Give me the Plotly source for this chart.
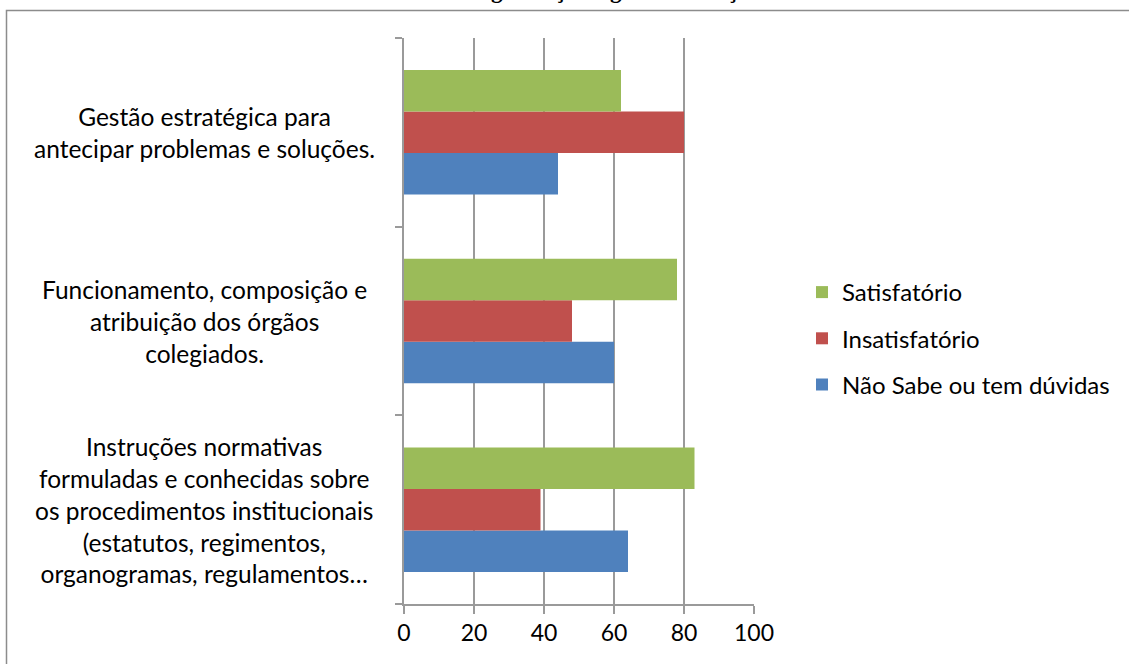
import plotly.graph_objects as go


# ==========================================
# DATA
# ==========================================

categories = [
    "Instruções normativas<br>formuladas e conhecidas sobre<br>os procedimentos institucionais<br>(estatutos, regimentos,<br>organogramas, regulamentos…",
    "Funcionamento, composição e<br>atribuição dos órgãos<br>colegiados.",
    "Gestão estratégica para<br>antecipar problemas e soluções.",
]

nao_sabe = [64, 60, 44]
insatisfatorio = [39, 48, 80]
satisfatorio = [83, 78, 62]

series_names = ["Não Sabe ou tem dúvidas", "Insatisfatório", "Satisfatório"]
series_values = [nao_sabe, insatisfatorio, satisfatorio]
series_colors = ["#4F81BD", "#C0504D", "#9BBB59"]
legend_ranks = [3, 2, 1]

x_ticks = [0, 20, 40, 60, 80, 100]

title_text = "Organização e gestão das ações"


# ==========================================
# FIGURE
# ==========================================

W, H = 1129, 664
PL, PR, PT, PB = 404, 754, 38, 604
FONT = "Lato, Open Sans, sans-serif"

fig = go.Figure()

for name, vals, color, rank in zip(series_names, series_values, series_colors, legend_ranks):
    fig.add_trace(
        go.Bar(
            y=categories,
            x=vals,
            name=name,
            orientation="h",
            legendgroup=name,
            legendrank=rank,
            marker=dict(color=color, line=dict(width=0)),
        )
    )


def px_to_paper_x(px):
    return (px - PL) / (PR - PL)


def px_to_paper_y(py):
    return (PB - py) / (PB - PT)


# category labels as centred annotations
for cat in categories:
    fig.add_annotation(
        x=px_to_paper_x(204),
        xref="paper",
        y=cat,
        yref="y",
        text=cat,
        showarrow=False,
        align="center",
        xanchor="center",
        yanchor="middle",
        font=dict(family=FONT, size=24.5, color="#000000"),
    )

# clipped title at the very top
fig.add_annotation(
    x=px_to_paper_x(615),
    xref="paper",
    y=px_to_paper_y(5),
    yref="paper",
    text="<b>" + title_text + "</b>",
    showarrow=False,
    xanchor="center",
    yanchor="bottom",
    font=dict(family="Liberation Serif, serif", size=23, color="#000000"),
)

# chart frame
fig.add_shape(
    type="rect",
    xref="paper",
    yref="paper",
    x0=px_to_paper_x(6.5),
    x1=px_to_paper_x(1140),
    y0=px_to_paper_y(680),
    y1=px_to_paper_y(10.5),
    line=dict(color="#8C8C8C", width=1.5),
    fillcolor="rgba(0,0,0,0)",
    layer="below",
)

fig.update_layout(
    width=W,
    height=H,
    margin=dict(l=PL, r=W - PR, t=PT, b=H - PB, pad=0, autoexpand=False),
    paper_bgcolor="white",
    plot_bgcolor="white",
    barmode="group",
    bargap=0.34,
    bargroupgap=0,
    font=dict(family=FONT, size=20, color="#000000"),
    legend=dict(
        x=px_to_paper_x(802),
        y=px_to_paper_y(270),
        xanchor="left",
        yanchor="top",
        traceorder="grouped",
        tracegroupgap=12,
        font=dict(size=24),
        itemwidth=30,
        bgcolor="rgba(0,0,0,0)",
    ),
    showlegend=True,
)

fig.update_xaxes(
    range=[0, 100],
    tickvals=x_ticks,
    showgrid=True,
    gridcolor="#9A9A9A",
    gridwidth=1.5,
    showline=True,
    linecolor="#9A9A9A",
    linewidth=1.5,
    ticks="outside",
    ticklen=8,
    tickcolor="#9A9A9A",
    tickwidth=1.5,
    tickfont=dict(size=23),
    zeroline=False,
    fixedrange=True,
)

fig.update_yaxes(
    showticklabels=False,
    showline=True,
    linecolor="#9A9A9A",
    linewidth=1.5,
    ticks="outside",
    tickson="boundaries",
    ticklen=7,
    tickcolor="#9A9A9A",
    tickwidth=1.5,
    showgrid=False,
    fixedrange=True,
)

fig.write_html(
    "out.html",
    config={"displayModeBar": False},
    post_script="document.body.style.margin='0px';",
)
